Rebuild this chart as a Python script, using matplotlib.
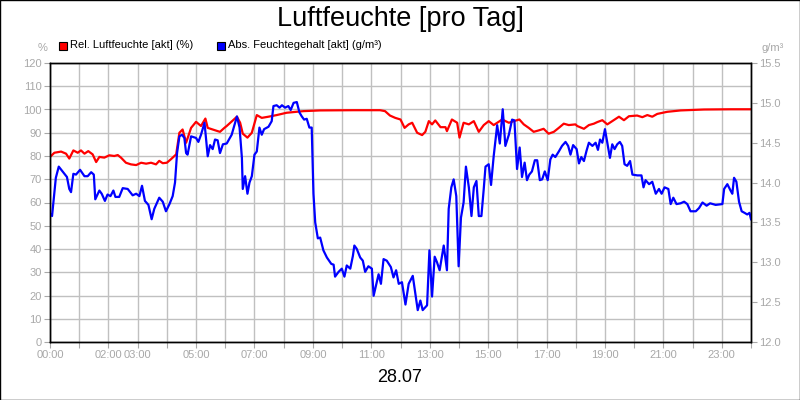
import matplotlib
matplotlib.use("Agg")
import matplotlib.pyplot as plt
from matplotlib.patches import Rectangle

plt.rcParams["font.family"] = ["Liberation Sans", "DejaVu Sans"]

# relative humidity (%), time in hours
rel_hours = [0.0, 0.15, 0.38, 0.55, 0.66, 0.8, 0.95, 1.06, 1.18, 1.31, 1.46, 1.58, 1.69, 1.86,
             2.03, 2.2, 2.32, 2.43, 2.6, 2.77, 2.95, 3.12, 3.29, 3.46, 3.63, 3.74, 3.86, 4.0,
             4.14, 4.32, 4.43, 4.54, 4.66, 4.83, 5.0, 5.17, 5.32, 5.4, 5.57, 5.74, 5.82, 5.97,
             6.05, 6.4, 6.51, 6.6, 6.76, 6.91, 7.08, 7.25, 7.48, 7.76, 8.1, 8.68, 9.25, 10.39,
             11.3, 11.47, 11.64, 11.82, 12.0, 12.14, 12.28, 12.4, 12.57, 12.74, 12.85, 12.97,
             13.08, 13.19, 13.37, 13.54, 13.59, 13.76, 13.94, 14.02, 14.16, 14.34, 14.51, 14.68,
             14.85, 15.02, 15.19, 15.36, 15.48, 15.71, 15.88, 16.07, 16.22, 16.39, 16.56, 16.73,
             16.9, 17.07, 17.25, 17.42, 17.59, 17.76, 17.99, 18.05, 18.28, 18.45, 18.62, 18.74,
             18.91, 19.08, 19.25, 19.48, 19.65, 19.82, 20.1, 20.28, 20.45, 20.62, 20.79, 21.13,
             21.59, 22.39, 23.3, 24.0]
rel_values = [79.6, 81.4, 81.9, 81.0, 78.9, 82.4, 81.4, 82.4, 81.0, 82.1, 80.7, 77.4, 79.6, 79.3,
              80.3, 80.0, 80.4, 79.3, 77.1, 76.4, 76.1, 77.1, 76.7, 77.1, 76.4, 77.9, 76.9, 77.1,
              78.6, 80.7, 90.0, 91.4, 85.7, 92.1, 94.7, 92.9, 96.1, 92.1, 91.4, 90.7, 90.4, 92.1,
              92.9, 96.9, 94.3, 89.6, 87.9, 90.0, 97.6, 96.4, 96.9, 97.6, 98.6, 99.3, 99.6, 99.7,
              99.7, 99.3, 97.4, 96.4, 95.7, 92.1, 93.6, 94.3, 90.0, 89.0, 90.4, 95.0,
              93.6, 95.3, 92.4, 92.4, 90.7, 95.7, 94.3, 87.9, 94.3, 93.6, 95.0, 90.4,
              93.3, 95.0, 93.3, 94.7, 95.7, 94.3, 95.0, 95.7, 93.6, 92.1, 90.4, 91.0,
              91.7, 89.6, 90.4, 92.1, 93.9, 93.3, 93.6, 92.9, 91.7, 93.3, 93.9, 94.6,
              95.4, 93.6, 95.0, 96.9, 95.4, 97.1, 97.4, 96.7, 97.6, 96.9, 98.1, 99.0,
              99.6, 100.0, 100.1, 100.1]

# absolute moisture content (g/m3), time in hours
abs_hours = [0.03, 0.07, 0.2, 0.3, 0.43, 0.58, 0.66, 0.72, 0.8, 0.89, 1.03, 1.18, 1.29, 1.41,
             1.5, 1.55, 1.69, 1.77, 1.88, 1.97, 2.07, 2.17, 2.24, 2.37, 2.49, 2.66, 2.83, 2.95,
             3.06, 3.15, 3.25, 3.37, 3.48, 3.57, 3.74, 3.86, 3.97, 4.09, 4.2, 4.28, 4.35, 4.43,
             4.52, 4.6, 4.66, 4.71, 4.83, 5.0, 5.08, 5.17, 5.29, 5.4, 5.48, 5.57, 5.65, 5.74,
             5.82, 5.92, 6.05, 6.22, 6.4, 6.49, 6.57, 6.6, 6.68, 6.76, 6.83, 6.91, 7.0, 7.08,
             7.17, 7.25, 7.33, 7.48, 7.59, 7.65, 7.76, 7.86, 7.94, 8.05, 8.16, 8.24, 8.34, 8.45,
             8.54, 8.62, 8.7, 8.79, 8.88, 8.96, 9.02, 9.08, 9.17, 9.25, 9.36, 9.48, 9.63, 9.71,
             9.76, 9.88, 9.99, 10.08, 10.16, 10.28, 10.37, 10.42, 10.5, 10.62, 10.71, 10.79,
             10.9, 11.02, 11.08, 11.25, 11.33, 11.42, 11.53, 11.67, 11.76, 11.85, 11.94, 12.05,
             12.17, 12.28, 12.42, 12.51, 12.59, 12.68, 12.76, 12.91, 12.99, 13.08, 13.17, 13.25,
             13.34, 13.48, 13.59, 13.65, 13.74, 13.82, 13.91, 13.99, 14.07, 14.16, 14.24, 14.34,
             14.43, 14.51, 14.6, 14.68, 14.77, 14.85, 14.91, 15.02, 15.1, 15.19, 15.31, 15.4,
             15.5, 15.59, 15.71, 15.82, 15.9, 15.99, 16.08, 16.16, 16.25, 16.33, 16.41, 16.5,
             16.6, 16.68, 16.77, 16.85, 16.94, 17.04, 17.13, 17.21, 17.3, 17.42, 17.53, 17.65,
             17.74, 17.82, 17.91, 18.03, 18.11, 18.19, 18.28, 18.37, 18.45, 18.57, 18.68, 18.76,
             18.83, 18.91, 19.0, 19.08, 19.17, 19.25, 19.33, 19.42, 19.51, 19.59, 19.67, 19.76,
             19.86, 19.94, 20.11, 20.25, 20.32, 20.39, 20.51, 20.62, 20.74, 20.85, 20.94, 21.04,
             21.17, 21.25, 21.34, 21.45, 21.59, 21.71, 21.82, 21.93, 22.11, 22.22, 22.34, 22.48,
             22.6, 22.79, 23.02, 23.08, 23.19, 23.3, 23.36, 23.42, 23.5, 23.59, 23.68, 23.78,
             23.87, 23.95, 24.0]
abs_values = [13.60, 13.58, 14.06, 14.20, 14.14, 14.07, 13.92, 13.88, 14.11, 14.10, 14.16, 14.08,
              14.08, 14.13, 14.10, 13.79, 13.90, 13.86, 13.77, 13.85, 13.83, 13.90, 13.82, 13.82,
              13.93, 13.92, 13.84, 13.86, 13.83, 13.96, 13.77, 13.72, 13.54, 13.67, 13.81, 13.76,
              13.64, 13.73, 13.83, 14.00, 14.37, 14.58, 14.60, 14.56, 14.37, 14.35, 14.58, 14.56,
              14.51, 14.60, 14.75, 14.33, 14.47, 14.42, 14.54, 14.53, 14.37, 14.48, 14.49, 14.60,
              14.83, 14.69, 14.31, 13.92, 14.08, 13.86, 14.00, 14.08, 14.35, 14.39, 14.69, 14.60,
              14.67, 14.70, 14.77, 14.96, 14.97, 14.94, 14.97, 14.94, 14.96, 14.91, 15.00, 15.01,
              14.88, 14.83, 14.79, 14.80, 14.69, 14.69, 13.86, 13.50, 13.30, 13.31, 13.15, 13.06,
              12.98, 12.97, 12.82, 12.88, 12.92, 12.82, 12.96, 12.92, 13.08, 13.21, 13.17, 13.06,
              13.02, 12.88, 12.95, 12.92, 12.58, 12.85, 12.73, 13.04, 13.02, 12.94, 12.81, 12.90,
              12.73, 12.75, 12.47, 12.73, 12.83, 12.60, 12.40, 12.52, 12.40, 12.46, 13.15, 12.57,
              13.07, 13.00, 12.90, 13.21, 12.90, 13.67, 13.94, 14.04, 13.83, 12.95, 13.56, 13.75,
              14.20, 13.94, 13.58, 13.94, 14.02, 13.58, 13.58, 13.92, 14.20, 14.23, 13.97, 14.33,
              14.72, 14.49, 14.92, 14.46, 14.60, 14.79, 14.78, 14.17, 14.44, 14.07, 14.25, 14.03,
              14.10, 14.14, 14.28, 14.28, 14.03, 14.04, 14.14, 14.03, 14.29, 14.35, 14.32, 14.39,
              14.46, 14.51, 14.46, 14.35, 14.47, 14.42, 14.24, 14.32, 14.27, 14.40, 14.50, 14.46,
              14.50, 14.41, 14.54, 14.50, 14.67, 14.50, 14.31, 14.48, 14.42, 14.48, 14.51, 14.46,
              14.23, 14.21, 14.27, 14.10, 14.09, 14.09, 13.94, 14.03, 13.98, 14.01, 13.86, 13.92,
              13.86, 13.94, 13.92, 13.73, 13.81, 13.73, 13.74, 13.76, 13.73, 13.64, 13.64, 13.68,
              13.75, 13.71, 13.74, 13.72, 13.73, 13.92, 13.98, 13.90, 13.86, 14.06, 14.01, 13.76,
              13.64, 13.62, 13.60, 13.62, 13.54]

tick_hours = list(range(25))
label_hours = [0, 2, 3, 5, 7, 9, 11, 13, 15, 17, 19, 21, 23]
rel_ticks = list(range(0, 121, 10))
abs_ticks = [12.0, 12.5, 13.0, 13.5, 14.0, 14.5, 15.0, 15.5]

GRAY = "#a8a8a8"
GRID = "#c0c0c0"

fig = plt.figure(figsize=(8, 4), dpi=100, facecolor="white")
ax = fig.add_axes([0.0625, 0.145, 0.87625, 0.6975])
ax2 = ax.twinx()

ax.plot(rel_hours, rel_values, color="#ff0000", linewidth=1.6)
ax2.plot(abs_hours, abs_values, color="#0000ff", linewidth=1.6)

ax.set_xlim(0, 24)
ax.set_ylim(0, 120)
ax2.set_ylim(12.0, 15.5)

ax.set_xticks(tick_hours)
ax.set_xticklabels([f"{h:02d}:00" if h in label_hours else "" for h in tick_hours])
ax.set_yticks(rel_ticks)
ax2.set_yticks(abs_ticks)
ax2.set_yticklabels([f"{v:.1f}" for v in abs_ticks])

ax.grid(True, color=GRID, linewidth=1.0)
ax.set_axisbelow(True)

for a in (ax, ax2):
    a.tick_params(colors=GRAY, labelcolor=GRAY, labelsize=8, length=4, width=0.8, pad=2)
    for spine in a.spines.values():
        spine.set_color("black")
        spine.set_linewidth(1.0)

# title, date and units
fig.text(0.5, 0.953, "Luftfeuchte [pro Tag]", ha="center", va="center", fontsize=19.5)
fig.text(0.5, 0.055, "28.07", ha="center", va="center", fontsize=13)
fig.text(0.053, 0.88, "%", ha="center", va="center", fontsize=8, color=GRAY)
fig.text(0.966, 0.88, "g/m³", ha="center", va="center", fontsize=8, color=GRAY)

# legend
for x0, color, label in [(59, "#ff0000", "Rel. Luftfeuchte [akt] (%)"),
                         (217, "#0000ff", "Abs. Feuchtegehalt [akt] (g/m³)")]:
    fig.add_artist(Rectangle((x0 / 800, 1 - 50 / 400), 8 / 800, 8 / 400,
                             transform=fig.transFigure, facecolor=color,
                             edgecolor="black", linewidth=0.8))
    fig.text((x0 + 11) / 800, 1 - 45 / 400, label, ha="left", va="center", fontsize=8)

# outer border
fig.add_artist(Rectangle((0.0006, 0.0012), 0.9988, 0.9976, transform=fig.transFigure,
                         fill=False, edgecolor="black", linewidth=1.0))

fig.savefig("out.png", dpi=100, facecolor="white")
